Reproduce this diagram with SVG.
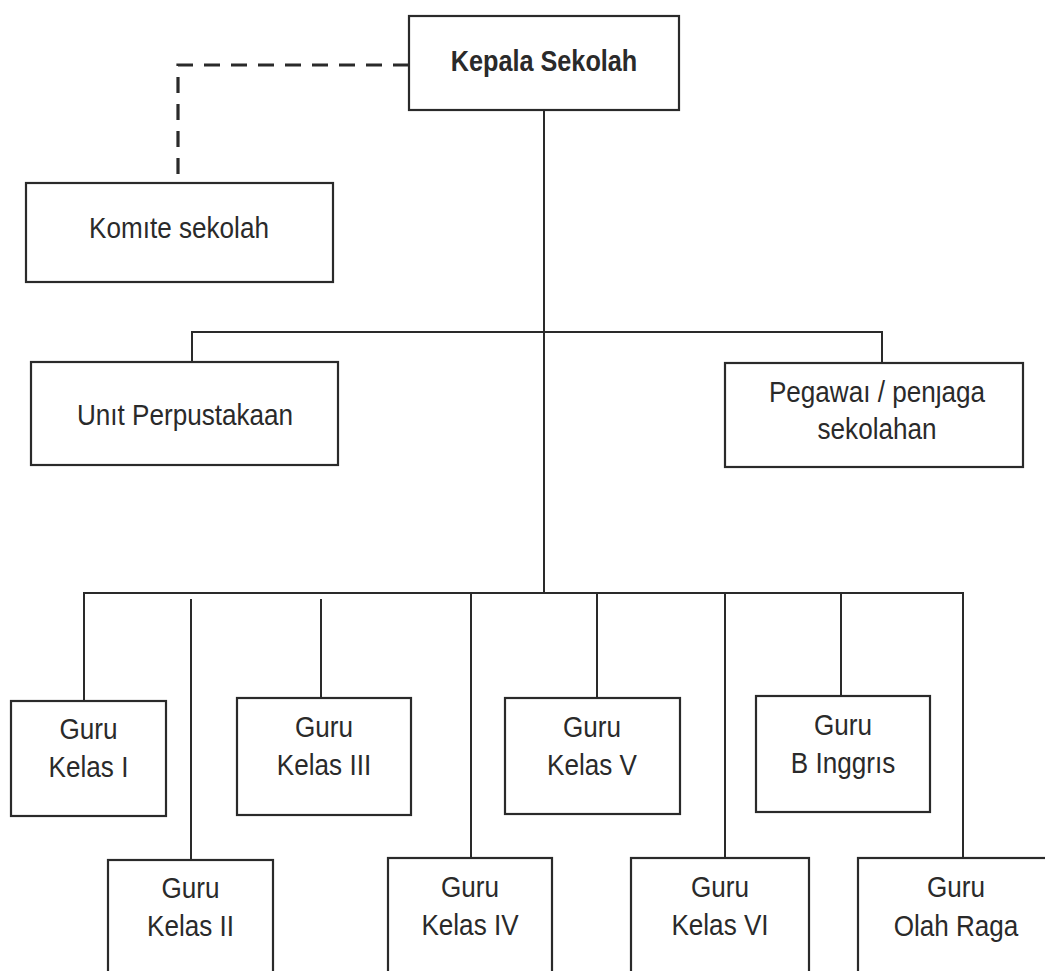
<svg xmlns="http://www.w3.org/2000/svg" width="1045" height="971" viewBox="0 0 1045 971">
<style>
.box{fill:#fff;stroke:#2a2a2a;stroke-width:2.2}
.ln{fill:none;stroke:#2a2a2a;stroke-width:2}
.dash{fill:none;stroke:#2a2a2a;stroke-width:3.2;stroke-dasharray:16 11}
text{font-family:"Liberation Sans",Arial,sans-serif;font-size:29px;fill:#2a2a2a;text-anchor:middle}
.b{font-weight:bold}
</style>
<rect width="1045" height="971" fill="#fff"/>
<g id="connectors">
<path class="dash" d="M409,65 H178 V183"/>
<path class="ln" d="M544,110 V594"/>
<path class="ln" d="M192,362 V332 H882 V363"/>
<path class="ln" d="M84,701 V593 H963 V858"/>
<path class="ln" d="M191,599 V860"/>
<path class="ln" d="M321,599 V698"/>
<path class="ln" d="M471,593 V858"/>
<path class="ln" d="M597,593 V698"/>
<path class="ln" d="M725,593 V858"/>
<path class="ln" d="M841,593 V696"/>
</g>
<g id="kepala"><rect class="box" x="409" y="16" width="270" height="94"/><text class="b" transform="translate(544 0) scale(.87 1)" x="0" y="71">Kepala Sekolah</text></g>
<g id="komite"><rect class="box" x="26" y="183" width="307" height="99"/><text transform="translate(179 0) scale(.9 1)" x="0" y="238">Komıte sekolah</text></g>
<g id="perpustakaan"><rect class="box" x="31" y="362" width="307" height="103"/><text transform="translate(185 0) scale(.9 1)" x="0" y="425">Unıt Perpustakaan</text></g>
<g id="pegawai"><rect class="box" x="725" y="363" width="298" height="104"/><text transform="translate(877 0) scale(.9 1)" x="0" y="402">Pegawaı / penȷaga</text><text transform="translate(877 0) scale(.9 1)" x="0" y="439">sekolahan</text></g>
<g id="kelas1"><rect class="box" x="11" y="701" width="155" height="115"/><text transform="translate(88.5 0) scale(.9 1)" x="0" y="739">Guru</text><text transform="translate(88.5 0) scale(.9 1)" x="0" y="777">Kelas I</text></g>
<g id="kelas3"><rect class="box" x="237" y="698" width="174" height="117"/><text transform="translate(324 0) scale(.9 1)" x="0" y="737">Guru</text><text transform="translate(324 0) scale(.9 1)" x="0" y="775">Kelas III</text></g>
<g id="kelas5"><rect class="box" x="505" y="698" width="175" height="116"/><text transform="translate(592 0) scale(.9 1)" x="0" y="737">Guru</text><text transform="translate(592 0) scale(.9 1)" x="0" y="775">Kelas V</text></g>
<g id="inggris"><rect class="box" x="756" y="696" width="174" height="116"/><text transform="translate(843 0) scale(.9 1)" x="0" y="735">Guru</text><text transform="translate(843 0) scale(.9 1)" x="0" y="773">B Inggrıs</text></g>
<g id="kelas2"><rect class="box" x="108" y="860" width="165" height="120"/><text transform="translate(190.5 0) scale(.9 1)" x="0" y="898">Guru</text><text transform="translate(190.5 0) scale(.9 1)" x="0" y="936">Kelas II</text></g>
<g id="kelas4"><rect class="box" x="388" y="858" width="164" height="120"/><text transform="translate(470 0) scale(.9 1)" x="0" y="897">Guru</text><text transform="translate(470 0) scale(.9 1)" x="0" y="935">Kelas IV</text></g>
<g id="kelas6"><rect class="box" x="631" y="858" width="178" height="120"/><text transform="translate(720 0) scale(.9 1)" x="0" y="897">Guru</text><text transform="translate(720 0) scale(.9 1)" x="0" y="935">Kelas VI</text></g>
<g id="olahraga"><rect class="box" x="858" y="858" width="196" height="120"/><text transform="translate(956 0) scale(.9 1)" x="0" y="897">Guru</text><text transform="translate(956 0) scale(.9 1)" x="0" y="936">Olah Raga</text></g>
</svg>
